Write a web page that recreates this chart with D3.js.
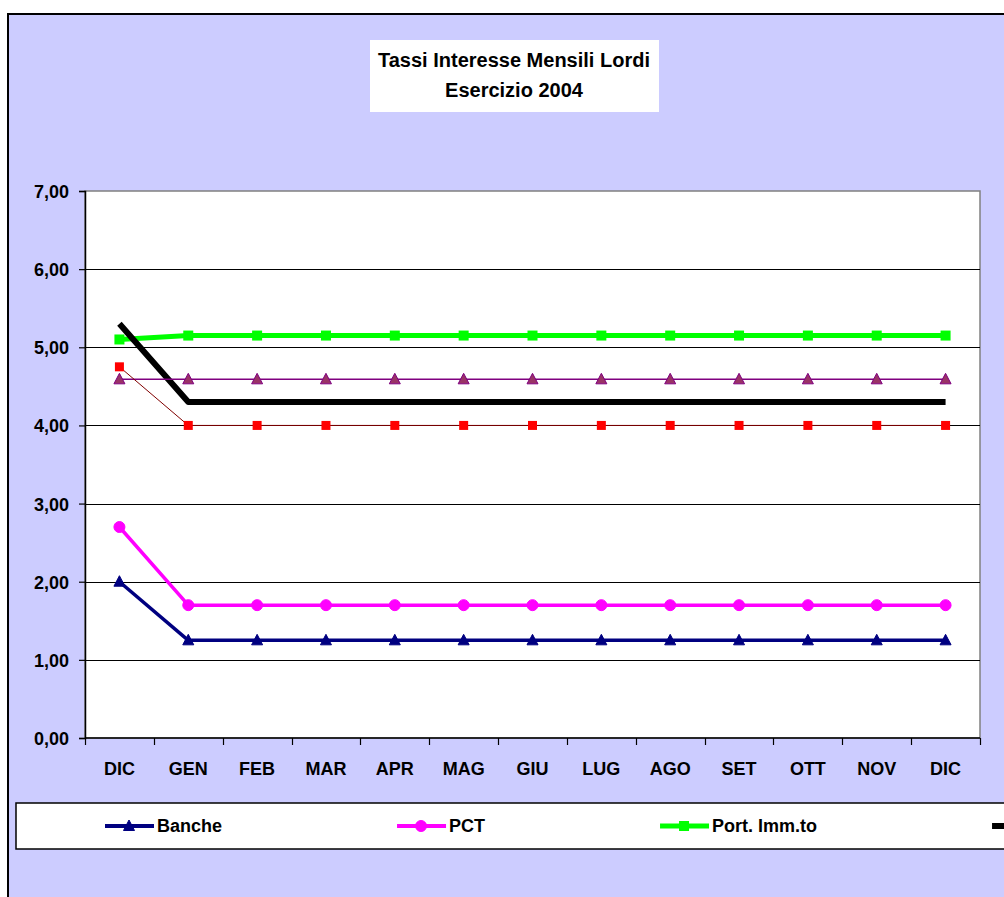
<!DOCTYPE html>
<html>
<head>
<meta charset="utf-8">
<script src="https://cdn.jsdelivr.net/npm/d3@7"></script>
<style>
  html, body { margin: 0; padding: 0; background: #ffffff; overflow: hidden; }
  svg { display: block; }
  text { font-family: "Liberation Sans", Arial, sans-serif; font-weight: bold; fill: #000; }
</style>
</head>
<body>
<svg id="chart" width="1004" height="897"></svg>
<script>
// ---- Data ----
const categories = ["DIC", "GEN", "FEB", "MAR", "APR", "MAG", "GIU", "LUG", "AGO", "SET", "OTT", "NOV", "DIC"];
const yTicks = [0, 1, 2, 3, 4, 5, 6, 7];
const titleLines = ["Tassi Interesse Mensili Lordi", "Esercizio 2004"];

const seriesNames = ["Banche", "PCT", "Port. Imm.to", "", "", ""];
const banche  = [2.00, 1.25, 1.25, 1.25, 1.25, 1.25, 1.25, 1.25, 1.25, 1.25, 1.25, 1.25, 1.25];
const pct     = [2.70, 1.70, 1.70, 1.70, 1.70, 1.70, 1.70, 1.70, 1.70, 1.70, 1.70, 1.70, 1.70];
const portImm = [5.10, 5.15, 5.15, 5.15, 5.15, 5.15, 5.15, 5.15, 5.15, 5.15, 5.15, 5.15, 5.15];
const nero    = [5.30, 4.30, 4.30, 4.30, 4.30, 4.30, 4.30, 4.30, 4.30, 4.30, 4.30, 4.30, 4.30];
const viola   = [4.59, 4.59, 4.59, 4.59, 4.59, 4.59, 4.59, 4.59, 4.59, 4.59, 4.59, 4.59, 4.59];
const rosso   = [4.75, 4.00, 4.00, 4.00, 4.00, 4.00, 4.00, 4.00, 4.00, 4.00, 4.00, 4.00, 4.00];

// ---- Styles ----
const styles = [
  { values: banche,  line: "#000080", width: 3.5, marker: "tri",    mFill: "#000080", mStroke: "#000080" },
  { values: pct,     line: "#FF00FF", width: 3.5, marker: "circle", mFill: "#FF00FF", mStroke: "#FF00FF" },
  { values: portImm, line: "#00FF00", width: 5,   marker: "square", mFill: "#00FF00", mStroke: "#00FF00" },
  { values: nero,    line: "#000000", width: 6,   marker: "none",   mFill: "none",    mStroke: "none" },
  { values: viola,   line: "#800080", width: 1.5, marker: "tri",    mFill: "#993366", mStroke: "#800080" },
  { values: rosso,   line: "#800000", width: 1,   marker: "square2",mFill: "#FF0000", mStroke: "#FF0000" }
];

const svg = d3.select("#chart");

// Outer frame
svg.append("rect").attr("x", 8).attr("y", 14).attr("width", 1100).attr("height", 1000)
  .attr("fill", "#CCCCFF").attr("stroke", "#000").attr("stroke-width", 2);

// Title box
svg.append("rect").attr("x", 370).attr("y", 40).attr("width", 289).attr("height", 72).attr("fill", "#fff");
svg.append("text").attr("x", 514).attr("y", 67).attr("text-anchor", "middle").attr("font-size", 20)
  .text(titleLines[0]);
svg.append("text").attr("x", 514).attr("y", 97).attr("text-anchor", "middle").attr("font-size", 20)
  .text(titleLines[1]);

// Plot
const plot = { left: 85, right: 980, top: 191, bottom: 738 };
const x = d3.scaleBand().domain(d3.range(categories.length)).range([plot.left, plot.right]).paddingInner(0).paddingOuter(0);
const y = d3.scaleLinear().domain([0, 7]).range([plot.bottom, plot.top]);
const cx = i => x(i) + x.bandwidth() / 2;

svg.append("rect").attr("x", plot.left).attr("y", plot.top)
  .attr("width", plot.right - plot.left).attr("height", plot.bottom - plot.top)
  .attr("fill", "#fff").attr("stroke", "#808080").attr("stroke-width", 1.5);

// Gridlines
svg.append("g").selectAll("line").data(yTicks.filter(t => t > 0 && t < 7)).join("line")
  .attr("x1", plot.left).attr("x2", plot.right)
  .attr("y1", d => Math.round(y(d)) + 0.5).attr("y2", d => Math.round(y(d)) + 0.5)
  .attr("stroke", "#000").attr("stroke-width", 1.2);

// Y axis
const fmt = d => d3.format(".2f")(d).replace(".", ",");
const yAxis = svg.append("g").attr("transform", `translate(${plot.left},0)`)
  .call(d3.axisLeft(y).tickValues(yTicks).tickFormat(fmt).tickSize(6).tickPadding(10));
yAxis.select(".domain").attr("stroke", "#000").attr("stroke-width", 1.5);
yAxis.selectAll(".tick line").attr("stroke", "#000").attr("stroke-width", 1.2);
yAxis.selectAll("text").attr("font-size", 18).attr("font-family", '"Liberation Sans", Arial, sans-serif')
  .attr("font-weight", "bold").attr("fill", "#000").attr("dy", "0.36em");

// X axis
const xAxisG = svg.append("g").attr("transform", `translate(0,${plot.bottom})`);
xAxisG.append("line").attr("x1", plot.left).attr("x2", plot.right).attr("y1", 0).attr("y2", 0)
  .attr("stroke", "#000").attr("stroke-width", 1.5);
xAxisG.selectAll("line.tk").data(d3.range(categories.length + 1)).join("line").attr("class", "tk")
  .attr("x1", i => Math.round(i < categories.length ? x(i) : plot.right) + 0.5)
  .attr("x2", i => Math.round(i < categories.length ? x(i) : plot.right) + 0.5)
  .attr("y1", 0).attr("y2", 7).attr("stroke", "#000").attr("stroke-width", 1.2);
xAxisG.selectAll("text").data(categories).join("text")
  .attr("x", (d, i) => cx(i)).attr("y", 37).attr("text-anchor", "middle").attr("font-size", 18)
  .text(d => d);

// Markers
function drawMarker(g, type, px, py, fill, stroke) {
  if (type === "tri") {
    g.append("path").attr("d", `M${px},${py - 6} L${px + 5.5},${py + 4.5} L${px - 5.5},${py + 4.5} Z`)
      .attr("fill", fill).attr("stroke", stroke).attr("stroke-width", 1);
  } else if (type === "circle") {
    g.append("circle").attr("cx", px).attr("cy", py).attr("r", 5.5).attr("fill", fill).attr("stroke", stroke);
  } else if (type === "square") {
    g.append("rect").attr("x", px - 5).attr("y", py - 5).attr("width", 10).attr("height", 10).attr("fill", fill);
  } else if (type === "square2") {
    g.append("rect").attr("x", px - 4.5).attr("y", py - 4.5).attr("width", 9).attr("height", 9).attr("fill", fill);
  }
}

const lineGen = d3.line().x((d, i) => cx(i)).y(d => y(d));
styles.forEach(s => {
  const g = svg.append("g");
  g.append("path").datum(s.values).attr("d", lineGen).attr("fill", "none")
    .attr("stroke", s.line).attr("stroke-width", s.width).attr("stroke-linejoin", "round");
  if (s.marker !== "none") {
    s.values.forEach((v, i) => drawMarker(g, s.marker, cx(i), y(v), s.mFill, s.mStroke));
  }
});

// Legend
svg.append("rect").attr("x", 16).attr("y", 803).attr("width", 1300).attr("height", 46)
  .attr("fill", "#fff").attr("stroke", "#000").attr("stroke-width", 1.5);
let lx = 105;
const ly = 826;
styles.forEach((s, i) => {
  if (lx > 1004) return;
  const g = svg.append("g");
  g.append("line").attr("x1", lx).attr("x2", lx + 49).attr("y1", ly).attr("y2", ly)
    .attr("stroke", s.line).attr("stroke-width", Math.max(s.width, 4));
  if (s.marker !== "none") drawMarker(g, s.marker, lx + 24, ly, s.mFill, s.mStroke);
  if (seriesNames[i]) {
    const t = g.append("text").attr("x", lx + 52).attr("y", ly + 6).attr("font-size", 18).text(seriesNames[i]);
    lx = lx + 52 + t.node().getComputedTextLength() + 175;
  } else {
    lx = lx + 52 + 1000;
  }
});
</script>
</body>
</html>
